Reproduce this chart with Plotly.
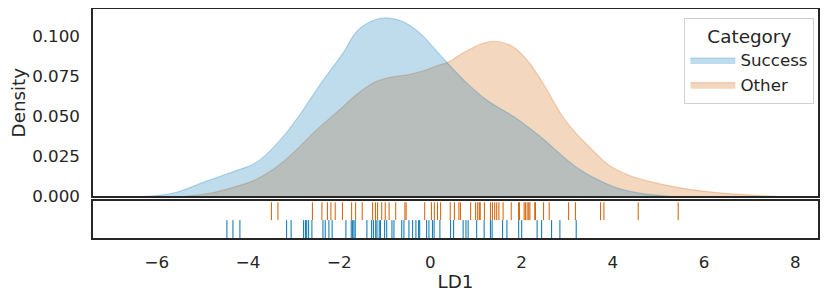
import plotly.graph_objects as go

# ---- data ----
categories = ["Success", "Other"]

success_density_x = [-6.3, -5.9, -5.55, -4.97, -4.31, -3.87, -3.58, -3.21, -2.85, -2.41, -1.93,
                     -1.60, -1.23, -0.94, -0.57, -0.21, 0.16, 0.38, 0.82, 1.25, 1.84, 2.42,
                     3.01, 3.30, 3.63, 4.14, 4.65, 5.25]
success_density_y = [0.0, 0.0008, 0.0027, 0.0089, 0.0156, 0.0204, 0.0267, 0.0381, 0.0517, 0.0704,
                     0.0892, 0.1038, 0.1104, 0.1117, 0.1090, 0.1017, 0.0902, 0.0833, 0.0704,
                     0.0600, 0.0496, 0.0371, 0.0225, 0.0163, 0.0110, 0.0048, 0.0017, 0.0]

other_density_x = [-5.4, -4.82, -4.31, -3.87, -3.43, -2.99, -2.55, -1.93, -1.60, -1.23, -0.87,
                   -0.50, -0.14, 0.16, 0.38, 0.74, 1.11, 1.40, 1.77, 2.13, 2.50, 2.86, 3.17,
                   3.56, 3.92, 4.36, 4.87, 5.38, 5.97, 6.55, 7.14, 7.6]
other_density_y = [0.0, 0.0021, 0.0058, 0.0100, 0.0173, 0.0277, 0.0402, 0.0558, 0.0642, 0.0714,
                   0.0746, 0.0761, 0.0788, 0.0819, 0.0839, 0.0902, 0.0954, 0.0971, 0.0944,
                   0.0850, 0.0694, 0.0517, 0.0402, 0.0288, 0.0194, 0.0131, 0.0089, 0.0058,
                   0.0033, 0.0017, 0.0006, 0.0]

success_rug = [-4.463, -4.331, -4.178, -3.154, -3.055, -2.781, -2.741, -2.713, -2.671, -2.599,
               -2.357, -2.307, -2.226, -2.156, -1.853, -1.737, -1.706, -1.678, -1.649, -1.393,
               -1.289, -1.250, -1.200, -1.173, -1.123, -1.096, -1.004, -0.958, -0.844, -0.800,
               -0.629, -0.581, -0.471, -0.390, -0.318, -0.259, -0.235, -0.083, -0.033, 0.044,
               0.081, 0.208, 0.443, 0.509, 0.717, 0.779, 0.827, 1.015, 1.178, 1.316, 1.353,
               1.583, 1.678, 1.936, 2.002, 2.340, 2.439, 2.658, 2.840, 3.197]

other_rug = [-3.487, -3.344, -2.588, -2.379, -2.259, -2.182, -2.088, -1.930, -1.728, -1.640,
             -1.496, -1.268, -1.206, -1.158, -1.068, -0.991, -0.906, -0.761, -0.559, -0.533,
             -0.125, 0.022, 0.086, 0.154, 0.224, 0.434, 0.526, 0.625, 0.658, 0.882, 0.991,
             1.037, 1.072, 1.092, 1.184, 1.316, 1.360, 1.410, 1.454, 1.502, 1.594, 1.772,
             1.934, 1.952, 2.055, 2.083, 2.121, 2.156, 2.182, 2.289, 2.303, 2.482, 2.605,
             3.031, 3.180, 3.732, 3.805, 4.557, 5.434]

x_tick_vals = [-6, -4, -2, 0, 2, 4, 6, 8]
x_tick_text = ["\u22126", "\u22124", "\u22122", "0", "2", "4", "6", "8"]
y_tick_vals = [0.0, 0.025, 0.05, 0.075, 0.1]
y_tick_text = ["0.000", "0.025", "0.050", "0.075", "0.100"]

BLUE = (1, 115, 178)
ORANGE = (213, 94, 0)
INK = "#262626"
FONT = "DejaVu Sans"


def rgba(c, a):
    return f"rgba({c[0]},{c[1]},{c[2]},{a})"


def rug_segments(values, y0, y1):
    xs, ys = [], []
    for v in values:
        xs += [v, v, None]
        ys += [y0, y1, None]
    return xs, ys


fig = go.Figure()

# Other (drawn first, under Success)
fig.add_trace(go.Scatter(
    x=other_density_x, y=other_density_y, name=categories[1], mode="lines",
    line=dict(color=rgba(ORANGE, 0.25), width=1.2, shape="spline", smoothing=1.0),
    fill="tozeroy", fillcolor=rgba(ORANGE, 0.25), legendrank=2,
    xaxis="x", yaxis="y"))
fig.add_trace(go.Scatter(
    x=success_density_x, y=success_density_y, name=categories[0], mode="lines",
    line=dict(color=rgba(BLUE, 0.25), width=1.2, shape="spline", smoothing=1.0),
    fill="tozeroy", fillcolor=rgba(BLUE, 0.25), legendrank=1,
    xaxis="x", yaxis="y"))

ox, oy = rug_segments(other_rug, 1.0, 2.0)
sx, sy = rug_segments(success_rug, 0.0, 1.0)
fig.add_trace(go.Scatter(x=ox, y=oy, mode="lines", line=dict(color=rgba(ORANGE, 1), width=1),
                         showlegend=False, hoverinfo="skip", xaxis="x2", yaxis="y2"))
fig.add_trace(go.Scatter(x=sx, y=sy, mode="lines", line=dict(color=rgba(BLUE, 1), width=1),
                         showlegend=False, hoverinfo="skip", xaxis="x2", yaxis="y2"))

xr = [-7.40, 8.50]
axis_line = dict(showline=True, linecolor=INK, linewidth=1.5, mirror=True,
                 showgrid=False, zeroline=False, automargin=False)

# page body has an 8px margin, so the figure is 822x290 placed at (8, 8)
fig.update_layout(
    width=822, height=290,
    margin=dict(l=85, r=12, t=1, b=60, autoexpand=False),
    paper_bgcolor="white", plot_bgcolor="white",
    font=dict(family=FONT, size=16.7, color=INK),
    xaxis=dict(domain=[0, 1], anchor="y", range=xr, showticklabels=False,
               ticks="", **axis_line),
    yaxis=dict(domain=[0.182, 1], anchor="x", range=[0, 0.1173],
               tickvals=y_tick_vals, ticktext=y_tick_text,
               ticks="outside", ticklen=8, tickcolor="rgba(0,0,0,0)",
               title=dict(text="Density", font=dict(size=18.3), standoff=6),
               **axis_line),
    xaxis2=dict(domain=[0, 1], anchor="y2", range=xr, matches="x",
                tickvals=x_tick_vals, ticktext=x_tick_text,
                ticks="outside", ticklen=8, tickcolor="rgba(0,0,0,0)",
                title=dict(text="LD1", font=dict(size=18.3), standoff=4),
                **axis_line),
    yaxis2=dict(domain=[0, 0.160], anchor="x2", range=[0, 2.05],
                showticklabels=False, ticks="", **axis_line),
    legend=dict(
        title=dict(text="Category", side="top center", font=dict(size=18.4)),
        x=0.995, xanchor="right", y=0.962, yanchor="top",
        bgcolor="rgba(255,255,255,0.8)", bordercolor="#d0d0d0", borderwidth=1,
        font=dict(size=16.7), tracegroupgap=0, itemwidth=45,
    ),
    showlegend=True,
)

fig.write_html("out.html")
